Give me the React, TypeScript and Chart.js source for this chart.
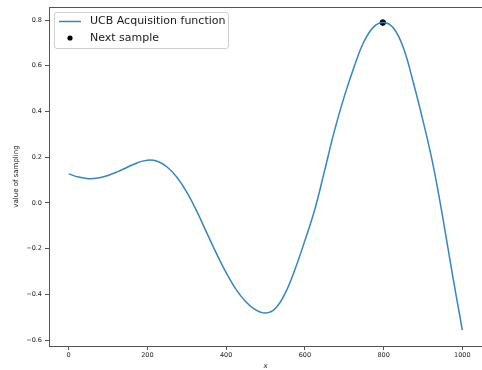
import React, { useEffect, useRef } from "react";
import { Chart, registerables } from "chart.js";

Chart.register(...registerables);

const xValues = [0, 25, 50, 75, 100, 125, 150, 175, 200, 225, 250, 275, 300, 325, 350, 375, 400, 425, 450, 475, 500, 525, 550, 575, 600, 625, 650, 675, 700, 725, 750, 775, 800, 825, 850, 875, 900, 925, 950, 975, 1000];
const ucbValues = [0.127, 0.113, 0.106, 0.109, 0.12, 0.137, 0.157, 0.176, 0.187, 0.182, 0.157, 0.112, 0.047, -0.035, -0.128, -0.22, -0.305, -0.378, -0.432, -0.468, -0.482, -0.462, -0.395, -0.29, -0.165, -0.03, 0.14, 0.315, 0.465, 0.595, 0.705, 0.77, 0.789, 0.765, 0.68, 0.53, 0.36, 0.172, -0.06, -0.315, -0.556];
const nextSampleX = [798];
const nextSampleY = [0.789];
const xTicks = [0, 200, 400, 600, 800, 1000];
const yTicks = [-0.6, -0.4, -0.2, 0.0, 0.2, 0.4, 0.6, 0.8];
const seriesLabels = ["UCB Acquisition function", "Next sample"];

const LINE_COLOR = "#3585c4";
const SPINE = "#555";
const FONT = "'DejaVu Sans', sans-serif";

export default function App() {
  const ref = useRef<HTMLCanvasElement | null>(null);

  useEffect(() => {
    const canvas = ref.current!;
    const framePlugin = {
      id: "frame",
      afterDraw(chart: any) {
        const { ctx, chartArea } = chart;
        ctx.save();
        ctx.strokeStyle = SPINE;
        ctx.lineWidth = 1;
        ctx.beginPath();
        ctx.moveTo(chartArea.left, chartArea.top + 0.5);
        ctx.lineTo(chartArea.right + 1, chartArea.top + 0.5);
        ctx.stroke();
        // legend
        const bx = 54.5, by = 12.5, bw = 174, bh = 36, r = 2.5;
        ctx.beginPath();
        ctx.moveTo(bx + r, by);
        ctx.lineTo(bx + bw - r, by);
        ctx.quadraticCurveTo(bx + bw, by, bx + bw, by + r);
        ctx.lineTo(bx + bw, by + bh - r);
        ctx.quadraticCurveTo(bx + bw, by + bh, bx + bw - r, by + bh);
        ctx.lineTo(bx + r, by + bh);
        ctx.quadraticCurveTo(bx, by + bh, bx, by + bh - r);
        ctx.lineTo(bx, by + r);
        ctx.quadraticCurveTo(bx, by, bx + r, by);
        ctx.closePath();
        ctx.fillStyle = "rgba(255,255,255,0.8)";
        ctx.fill();
        ctx.strokeStyle = "#d0d0d0";
        ctx.stroke();
        ctx.strokeStyle = LINE_COLOR;
        ctx.lineWidth = 1.5;
        ctx.beginPath();
        ctx.moveTo(59, 21.5);
        ctx.lineTo(81, 21.5);
        ctx.stroke();
        ctx.fillStyle = "#000";
        ctx.beginPath();
        ctx.arc(70, 38, 2.6, 0, Math.PI * 2);
        ctx.fill();
        ctx.font = `11px ${FONT}`;
        ctx.fillStyle = "#1a1a1a";
        ctx.textBaseline = "middle";
        ctx.textAlign = "left";
        ctx.fillText(seriesLabels[0], 90, 21.5);
        ctx.fillText(seriesLabels[1], 90, 38);
        ctx.restore();
      },
    };

    const fmt = (v: number) => v.toFixed(1).replace("-", "\u2212");

    const chart = new Chart(canvas, {
      type: "line",
      data: {
        datasets: [
          {
            label: seriesLabels[0],
            data: xValues.map((x, i) => ({ x, y: ucbValues[i] })),
            borderColor: LINE_COLOR,
            borderWidth: 1.5,
            pointRadius: 0,
            tension: 0.4,
            fill: false,
          },
          {
            type: "scatter",
            label: seriesLabels[1],
            data: nextSampleX.map((x, i) => ({ x, y: nextSampleY[i] })),
            backgroundColor: "#000",
            borderColor: "#000",
            pointRadius: 2.8,
            showLine: false,
          } as any,
        ],
      },
      options: {
        responsive: false,
        animation: false,
        layout: { autoPadding: false, padding: { left: 0, right: -1, top: 7, bottom: 0 } },
        plugins: {
          legend: { display: false },
          tooltip: { enabled: false },
        },
        scales: {
          x: {
            type: "linear",
            min: -50,
            max: 1050,
            afterBuildTicks: (s: any) => {
              s.ticks = xTicks.map((v) => ({ value: v }));
            },
            afterFit: (s: any) => {
              s.height = 24;
              s.paddingLeft = 0;
              s.paddingRight = 0;
            },
            grid: { display: true, drawOnChartArea: false, drawTicks: true, tickLength: 4, color: SPINE },
            border: { display: true, color: SPINE, width: 1 },
            ticks: {
              color: "#222",
              font: { family: FONT, size: 6.5 },
              padding: 1,
              maxRotation: 0,
              callback: (v: any) => String(v),
            },
            title: {
              display: true,
              text: "x",
              color: "#222",
              font: { family: FONT, size: 7, style: "italic" },
              padding: 0,
            },
          },
          y: {
            type: "linear",
            min: -0.626,
            max: 0.857,
            afterBuildTicks: (s: any) => {
              s.ticks = yTicks.map((v) => ({ value: v }));
            },
            afterFit: (s: any) => {
              s.width = 49;
              s.paddingTop = 0;
              s.paddingBottom = 0;
            },
            grid: { display: true, drawOnChartArea: false, drawTicks: true, tickLength: 4, color: SPINE },
            border: { display: true, color: SPINE, width: 1 },
            ticks: {
              color: "#222",
              font: { family: FONT, size: 6.5 },
              padding: 3,
              callback: (v: any) => fmt(Number(v)),
            },
            title: {
              display: true,
              text: "value of sampling",
              color: "#222",
              font: { family: FONT, size: 7 },
              padding: { top: 12, bottom: 0 },
            },
          },
        },
      },
      plugins: [framePlugin],
    } as any);
    return () => chart.destroy();
  }, []);

  return (
    <div style={{ position: "absolute", left: 0, top: 0, width: 482, height: 370, background: "#fff" }}>
      <canvas ref={ref} width={482} height={370} style={{ width: 482, height: 370, display: "block" }} />
    </div>
  );
}
